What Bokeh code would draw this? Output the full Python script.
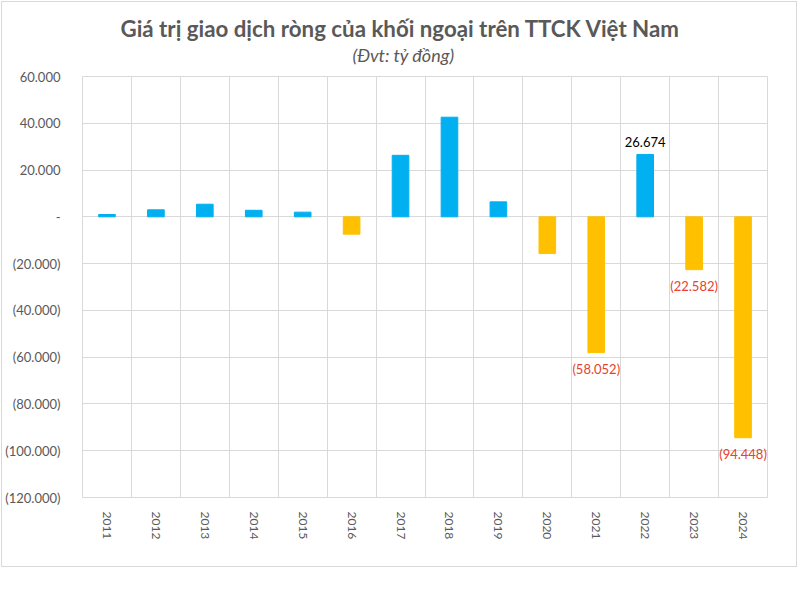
from bokeh.plotting import figure
from bokeh.models import (ColumnDataSource, FixedTicker, Range1d, Title, LabelSet)
from bokeh.core.properties import value
from bokeh.embed import file_html
from bokeh.resources import INLINE

# ---- data ----
years = ["2011", "2012", "2013", "2014", "2015", "2016", "2017",
         "2018", "2019", "2020", "2021", "2022", "2023", "2024"]
net_value = [1000, 3000, 5400, 2800, 2000, -7400, 26300,
             42600, 6400, -15700, -58052, 26674, -22582, -94448]
labelled_years = ["2021", "2022", "2023", "2024"]
y_ticks = [60000, 40000, 20000, 0, -20000, -40000, -60000, -80000, -100000, -120000]

title_text = "Giá trị giao dịch ròng của khối ngoại trên TTCK Việt Nam"
subtitle_text = "(Đvt: tỷ đồng)"

FONT = "Lato"
GREY = "#595959"
GRID = "#d9d9d9"
BLUE = "#00B0F0"
YELLOW = "#FFC000"
RED = "#e8412c"


def vn_fmt(v):
    s = f"{abs(v):,}".replace(",", ".")
    if v == 0:
        return "-"
    return f"({s})" if v < 0 else s


xs = [i + 0.5 for i in range(len(years))]
colors = [BLUE if v >= 0 else YELLOW for v in net_value]
src = ColumnDataSource(dict(x=xs, v=net_value, c=colors))

pos = dict(x=[], v=[], t=[])
neg = dict(x=[], v=[], t=[])
for x, y, v in zip(xs, years, net_value):
    if y in labelled_years:
        d = pos if v >= 0 else neg
        d["x"].append(x)
        d["v"].append(v)
        d["t"].append(vn_fmt(v))

p = figure(width=796, height=566, output_backend="svg", toolbar_location=None,
           x_range=Range1d(0, len(years)), y_range=Range1d(min(y_ticks), max(y_ticks)),
           min_border_left=75, min_border_right=31, min_border_top=74, min_border_bottom=71,
           background_fill_color="white", border_fill_color="white")
p.margin = (1, 0, 0, 1)
p.styles = {"border": "1px solid #d9d9d9"}
p.outline_line_color = GRID

p.vbar(x="x", top="v", bottom=0, width=0.34, color="c", source=src)

# axes
p.yaxis.ticker = FixedTicker(ticks=y_ticks)
p.yaxis.major_label_overrides = {t: vn_fmt(t) for t in y_ticks}
p.xaxis.ticker = FixedTicker(ticks=xs)
p.xaxis.major_label_overrides = {x: y for x, y in zip(xs, years)}
p.xaxis.major_label_orientation = "vertical"
for ax in (p.xaxis[0], p.yaxis[0]):
    ax.axis_line_color = None
    ax.major_tick_line_color = None
    ax.minor_tick_line_color = None
    ax.major_label_text_font = FONT
    ax.major_label_text_color = GREY
p.yaxis.major_label_text_font_size = "13px"
p.yaxis.major_label_standoff = 16
p.xaxis.major_label_text_font_size = "12px"
p.xaxis.major_label_standoff = 8

p.xgrid.ticker = FixedTicker(ticks=list(range(len(years) + 1)))
p.xgrid.grid_line_color = GRID
p.ygrid.ticker = FixedTicker(ticks=y_ticks)
p.ygrid.grid_line_color = GRID

p.add_layout(LabelSet(x="x", y="v", text="t", source=ColumnDataSource(pos),
                      y_offset=7, text_align="center", text_baseline="bottom",
                      text_font=value(FONT), text_font_size=value("13px"),
                      text_color="#000000"))
p.add_layout(LabelSet(x="x", y="v", text="t", source=ColumnDataSource(neg),
                      y_offset=-8, text_align="center", text_baseline="top",
                      text_font=value(FONT), text_font_size=value("13px"),
                      text_color=RED))

# titles (left-aligned with offsets so they sit centred on the page)
p.add_layout(Title(text=" ", align="left", standoff=8,
                   text_font=FONT, text_font_size="1px"), "above")  # spacer
p.add_layout(Title(text=subtitle_text, align="left", offset=270, standoff=0,
                   text_font=FONT, text_font_size="18px", text_font_style="italic",
                   text_color=GREY), "above")
p.add_layout(Title(text=title_text, align="left", offset=38, standoff=0,
                   text_font=FONT, text_font_size="22.3px", text_font_style="bold",
                   text_color=GREY), "above")

open("out.html", "w").write(file_html(p, INLINE))
